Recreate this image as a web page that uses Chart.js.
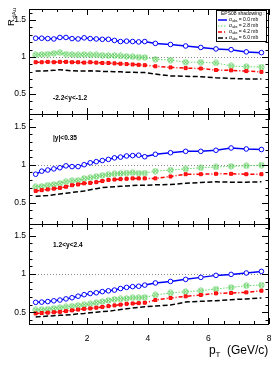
<!DOCTYPE html>
<html>
<head>
<meta charset="utf-8">
<script src="https://cdn.jsdelivr.net/npm/chart.js@4.4.1/dist/chart.umd.min.js"></script>
<style>
    html, body { margin: 0; padding: 0; background: #fff; }
    #wrap { position: relative; width: 274px; height: 374px; overflow: hidden; }
    .pad { position: absolute; left: 0; width: 274px; }
</style>
</head>
<body>
<div id="wrap">
    <div class="pad" style="top:0;height:120px"><canvas id="pad-bwd"></canvas></div>
    <div class="pad" style="top:108px;height:122px"><canvas id="pad-mid"></canvas></div>
    <div class="pad" style="top:218px;height:156px"><canvas id="pad-fwd"></canvas></div>
</div>
<script>
// pT bin centres (GeV/c)
const pt = [0.3, 0.5, 0.7, 0.9, 1.1, 1.3, 1.5, 1.7, 1.9, 2.1, 2.3, 2.5, 2.7, 2.9, 3.1, 3.3, 3.5, 3.7, 3.9,
            4.25, 4.75, 5.25, 5.75, 6.25, 6.75, 7.25, 7.75];

// -2.2<y<-1.2
const bwdSig0 = [1.255, 1.255, 1.25, 1.245, 1.265, 1.265, 1.25, 1.245, 1.26, 1.25, 1.245, 1.24, 1.24, 1.225, 1.21, 1.215, 1.21, 1.205, 1.21,
                 1.185, 1.17, 1.15, 1.13, 1.11, 1.10, 1.07, 1.06];
const bwdSig28 = [1.03, 1.035, 1.04, 1.05, 1.06, 1.04, 1.035, 1.03, 1.035, 1.03, 1.03, 1.025, 1.02, 1.02, 1.015, 1.01, 1.005, 1.0, 0.995,
                  0.97, 0.96, 0.93, 0.93, 0.92, 0.88, 0.87, 0.865];
const bwdSig42 = [0.93, 0.93, 0.935, 0.93, 0.935, 0.935, 0.93, 0.93, 0.925, 0.93, 0.925, 0.92, 0.92, 0.915, 0.91, 0.905, 0.9, 0.895, 0.89,
                  0.875, 0.86, 0.85, 0.845, 0.825, 0.82, 0.81, 0.80];
const bwdSig60 = [0.81, 0.81, 0.815, 0.82, 0.83, 0.82, 0.815, 0.81, 0.81, 0.815, 0.81, 0.805, 0.805, 0.80, 0.80, 0.795, 0.795, 0.79, 0.79,
                  0.77, 0.745, 0.74, 0.735, 0.72, 0.71, 0.705, 0.705];

// |y|<0.35
const midSig0 = [0.875, 0.915, 0.93, 0.945, 0.96, 0.985, 0.975, 0.975, 1.0, 1.025, 1.04, 1.055, 1.07, 1.09, 1.1, 1.115, 1.12, 1.125, 1.105,
                 1.137, 1.158, 1.176, 1.176, 1.19, 1.22, 1.207, 1.20];
const midSig28 = [0.71, 0.715, 0.73, 0.74, 0.755, 0.775, 0.79, 0.795, 0.82, 0.83, 0.845, 0.86, 0.87, 0.88, 0.885, 0.89, 0.895, 0.89, 0.89,
                  0.915, 0.93, 0.945, 0.96, 0.97, 0.98, 0.985, 0.995];
const midSig42 = [0.655, 0.665, 0.675, 0.685, 0.695, 0.71, 0.73, 0.74, 0.755, 0.76, 0.77, 0.785, 0.8, 0.805, 0.81, 0.815, 0.82, 0.82, 0.82,
                  0.82, 0.845, 0.875, 0.875, 0.88, 0.88, 0.875, 0.875];
const midSig60 = [0.585, 0.59, 0.595, 0.605, 0.615, 0.625, 0.635, 0.645, 0.655, 0.67, 0.685, 0.70, 0.705, 0.71, 0.715, 0.72, 0.725, 0.73, 0.73,
                  0.735, 0.74, 0.755, 0.765, 0.775, 0.77, 0.77, 0.775];

// 1.2<y<2.4
const fwdSig0 = [0.63, 0.633, 0.64, 0.65, 0.66, 0.675, 0.69, 0.71, 0.73, 0.745, 0.755, 0.77, 0.78, 0.79, 0.81, 0.825, 0.835, 0.84, 0.855,
                 0.883, 0.903, 0.93, 0.956, 0.982, 0.995, 1.013, 1.034];
const fwdSig28 = [0.53, 0.535, 0.54, 0.55, 0.56, 0.57, 0.58, 0.59, 0.6, 0.61, 0.625, 0.64, 0.655, 0.67, 0.675, 0.68, 0.69, 0.69, 0.695,
                  0.726, 0.752, 0.769, 0.782, 0.804, 0.825, 0.847, 0.856];
const fwdSig42 = [0.485, 0.49, 0.495, 0.5, 0.505, 0.515, 0.525, 0.535, 0.545, 0.55, 0.56, 0.57, 0.58, 0.59, 0.6, 0.61, 0.615, 0.62, 0.625,
                  0.66, 0.687, 0.708, 0.726, 0.747, 0.752, 0.76, 0.782];
const fwdSig60 = [0.44, 0.445, 0.45, 0.455, 0.46, 0.465, 0.47, 0.48, 0.485, 0.495, 0.5, 0.51, 0.515, 0.525, 0.535, 0.545, 0.555, 0.565, 0.573,
                  0.582, 0.595, 0.634, 0.643, 0.652, 0.665, 0.674, 0.687];

const sigmaAbs = ['0.0', '2.8', '4.2', '6.0'];
const yTicks = [0.5, 1, 1.5];
const xTicks = [2, 4, 6, 8];
const unity = 1;

const FONT = '"Liberation Sans", Arial, Helvetica, sans-serif';

// crossed open circle marker, ROOT style
function crossedCircle(color) {
    const c = document.createElement('canvas');
    c.width = 7; c.height = 7;
    const g = c.getContext('2d');
    g.strokeStyle = color;
    g.lineWidth = 0.9;
    g.beginPath(); g.arc(3.5, 3.5, 2.6, 0, Math.PI * 2); g.stroke();
    g.beginPath();
    g.moveTo(1.7, 1.7); g.lineTo(5.3, 5.3);
    g.moveTo(5.3, 1.7); g.lineTo(1.7, 5.3);
    g.stroke();
    return c;
}
const greenMarker = crossedCircle('#55cc55');

const styles = [
    { color: '#0000ff', dash: [], width: 1.5, point: 'circle', radius: 2.3, fill: '#ffffff' },
    { color: '#66d966', dash: [1.5, 1.5], width: 1, point: greenMarker, radius: 3.5, fill: 'transparent' },
    { color: '#ff0000', dash: [4, 2, 1, 2], width: 1.5, point: 'rect', radius: 2.1, fill: '#ff2020' },
    { color: '#000000', dash: [5, 2.5], width: 1.5, point: false, radius: 0, fill: 'transparent' }
];

function makeDatasets(series) {
    // draw black first so blue ends on top
    return series.map((vals, i) => {
        const s = styles[i];
        return {
            data: pt.map((x, k) => ({ x: x, y: vals[k] })),
            borderColor: s.color,
            borderWidth: s.width,
            borderDash: s.dash,
            pointStyle: s.point,
            pointRadius: s.radius,
            pointBorderColor: s.color,
            pointBorderWidth: 1,
            pointBackgroundColor: s.fill,
            tension: 0,
            order: 4 - i
        };
    });
}

// frame, inner ticks, dotted unity line and labels
const rootPad = {
    id: 'rootPad',
    beforeDatasetsDraw(chart) {
        const { ctx, chartArea: a, scales: { y } } = chart;
        const py = Math.round(y.getPixelForValue(unity)) + 0.5;
        ctx.save();
        ctx.strokeStyle = '#888';
        ctx.lineWidth = 1;
        ctx.setLineDash([1, 2]);
        ctx.beginPath();
        ctx.moveTo(a.left, py);
        ctx.lineTo(a.right, py);
        ctx.stroke();
        ctx.restore();
    },
    afterDatasetsDraw(chart, args, opts) {
        const { ctx, chartArea: a, scales: { x, y } } = chart;
        ctx.save();
        ctx.strokeStyle = '#000';
        ctx.lineWidth = 1;
        ctx.beginPath();
        // y ticks every 0.1, long ones on labelled values
        for (let k = 1; k <= 17; k++) {
            const v = k / 10;
            if (v < y.min || v > y.max) continue;
            const py = Math.round(y.getPixelForValue(v)) + 0.5;
            const len = yTicks.includes(v) ? 7 : 3.5;
            ctx.moveTo(a.left, py); ctx.lineTo(a.left + len, py);
            ctx.moveTo(a.right, py); ctx.lineTo(a.right - len, py);
        }
        // x ticks every 0.5, long ones on labelled values
        for (let k = 1; k <= 16; k++) {
            const v = k / 2;
            const px = Math.round(x.getPixelForValue(v)) + 0.5;
            const len = xTicks.includes(v) ? 6 : 3;
            ctx.moveTo(px, a.bottom); ctx.lineTo(px, a.bottom - len);
            ctx.moveTo(px, a.top); ctx.lineTo(px, a.top + len);
        }
        ctx.stroke();
        ctx.strokeRect(Math.round(a.left) + 0.5, Math.round(a.top) + 0.5,
                       Math.round(a.width) - 1, Math.round(a.height));
        ctx.restore();

        // rapidity label
        ctx.save();
        ctx.fillStyle = '#000';
        ctx.font = 'bold 6.6px ' + FONT;
        ctx.textBaseline = 'middle';
        ctx.fillText(opts.label, 53, a.top + opts.labelDy);
        ctx.restore();
    }
};

// R_dAu title on the top pad
const yTitle = {
    id: 'yTitle',
    afterDraw(chart) {
        const ctx = chart.ctx;
        ctx.save();
        ctx.fillStyle = '#000';
        ctx.translate(14, 26);
        ctx.rotate(-Math.PI / 2);
        ctx.font = '9.5px ' + FONT;
        ctx.fillText('R', 0, 0);
        const w = ctx.measureText('R').width;
        ctx.font = '6px ' + FONT;
        ctx.fillText('dAu', w + 0.5, 2);
        ctx.restore();
    }
};

// legend box on the top pad
const epsLegend = {
    id: 'epsLegend',
    afterDraw(chart) {
        const ctx = chart.ctx;
        ctx.save();
        ctx.fillStyle = '#fff';
        ctx.fillRect(216, 10, 51, 32);
        ctx.strokeStyle = '#000';
        ctx.lineWidth = 1;
        ctx.strokeRect(216.5, 10.5, 50, 31);
        ctx.fillStyle = '#000';
        ctx.textBaseline = 'middle';
        ctx.font = '5px ' + FONT;
        ctx.fillText('EPS08 shadowing :', 221, 14);
        sigmaAbs.forEach((s, i) => {
            const st = styles[i];
            const yy = 20 + i * 6;
            ctx.strokeStyle = st.color;
            ctx.lineWidth = st.width;
            ctx.setLineDash(st.dash);
            ctx.beginPath();
            ctx.moveTo(218, yy);
            ctx.lineTo(227, yy);
            ctx.stroke();
            ctx.setLineDash([]);
            ctx.font = '5px ' + FONT;
            ctx.fillText('\u03c3', 229, yy);
            ctx.font = '3.3px ' + FONT;
            ctx.fillText('abs', 232.2, yy + 1.3);
            ctx.font = '5px ' + FONT;
            ctx.fillText(' = ' + s + ' mb', 237.3, yy);
        });
        ctx.restore();
    }
};

// p_T title on the bottom pad
const xTitle = {
    id: 'xTitle',
    afterDraw(chart) {
        const ctx = chart.ctx;
        const b = chart.chartArea.bottom;
        ctx.save();
        ctx.fillStyle = '#000';
        ctx.font = '12px ' + FONT;
        ctx.fillText('p', 209, b + 30);
        ctx.font = '8px ' + FONT;
        ctx.fillText('T', 215.5, b + 33);
        ctx.font = '12px ' + FONT;
        ctx.fillText('(GeV/c)', 227, b + 30);
        ctx.restore();
    }
};

// keep the label half-widths from eating into the frame
function noScalePadding(scale) {
    scale.paddingLeft = 0;
    scale.paddingRight = 0;
    scale.paddingTop = 0;
    scale.paddingBottom = 0;
}

function createPad(canvasId, series, yMin, yMax, padding, showX, label, labelDy, extra) {
    return new Chart(document.getElementById(canvasId), {
        type: 'line',
        data: { datasets: makeDatasets(series) },
        options: {
            responsive: true,
            maintainAspectRatio: false,
            animation: false,
            devicePixelRatio: 1,
            layout: { padding: padding },
            plugins: {
                legend: { display: false },
                tooltip: { enabled: false },
                rootPad: { label: label, labelDy: labelDy }
            },
            scales: {
                x: {
                    type: 'linear',
                    min: 0.08,
                    max: 8,
                    display: showX,
                    grid: { display: false, drawTicks: false },
                    border: { display: false },
                    afterBuildTicks: scale => { scale.ticks = xTicks.map(v => ({ value: v })); },
                    afterFit: scale => {
                        noScalePadding(scale);
                        if (showX) scale.height = 50;
                    },
                    ticks: {
                        padding: 10,
                        maxRotation: 0,
                        autoSkip: false,
                        color: '#000',
                        font: { family: FONT, size: 8.5 }
                    }
                },
                y: {
                    min: yMin,
                    max: yMax,
                    grid: { display: false, drawTicks: false },
                    border: { display: false },
                    afterBuildTicks: scale => { scale.ticks = yTicks.map(v => ({ value: v })); },
                    afterFit: scale => {
                        noScalePadding(scale);
                        scale.width = 29;
                    },
                    ticks: {
                        padding: 3,
                        color: '#000',
                        font: { family: FONT, size: 8.5 },
                        callback: v => String(v)
                    }
                }
            }
        },
        plugins: [rootPad].concat(extra)
    });
}

createPad('pad-bwd', [bwdSig0, bwdSig28, bwdSig42, bwdSig60], 0.23, 1.65,
          { top: 9, bottom: 6, left: 0, right: 5 }, false, '-2.2<y<-1.2', 88.7, [yTitle, epsLegend]);
createPad('pad-mid', [midSig0, midSig28, midSig42, midSig60], 0.22, 1.667,
          { top: 6, bottom: 6, left: 0, right: 5 }, false, '|y|<0.35', 23.7, []);
createPad('pad-fwd', [fwdSig0, fwdSig28, fwdSig42, fwdSig60], 0.347, 1.653,
          { top: 6, bottom: 0, left: 0, right: 5 }, true, '1.2<y<2.4', 21.3, [xTitle]);
</script>
</body>
</html>
